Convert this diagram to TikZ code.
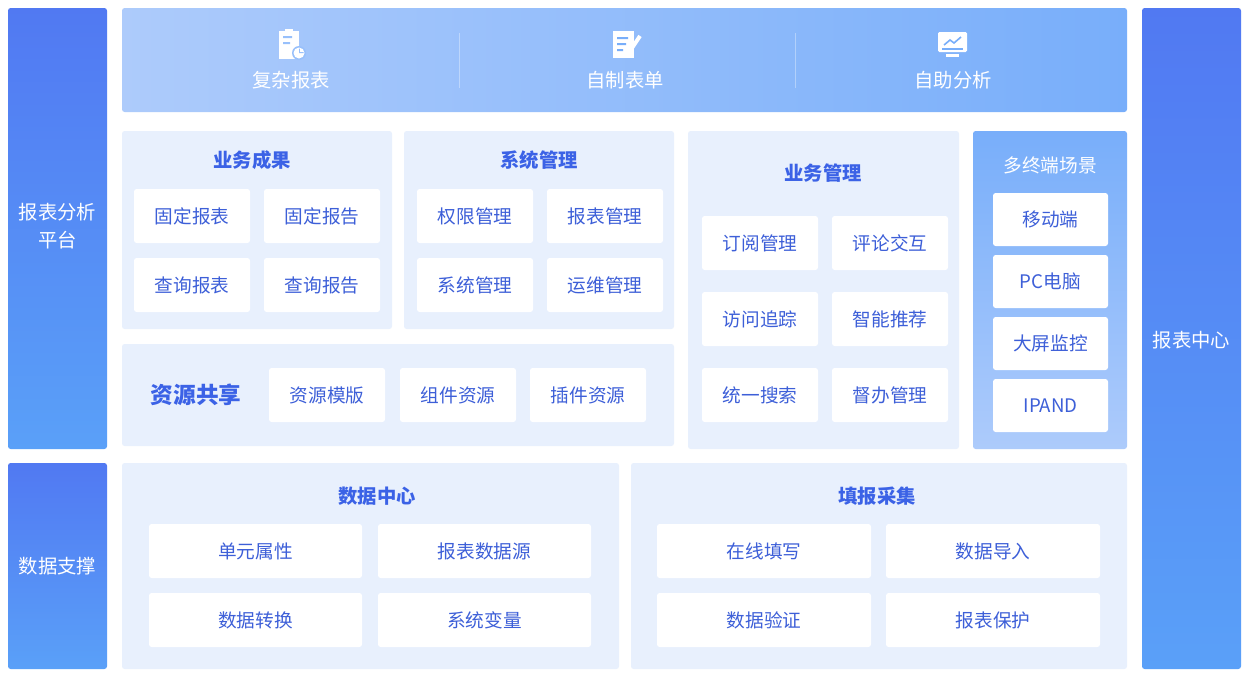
\documentclass[tikz,border=0pt]{standalone}
\usepackage{fontspec}
\setmainfont{Noto Sans CJK SC}
\begin{document}
\begin{tikzpicture}[x=0.75pt,y=-0.75pt,
  panel/.style={fill=pbg,rounded corners=2pt},
  cell/.style={fill=white,rounded corners=2pt},
  celltxt/.style={text=ctxt,font=\fontsize{14}{16}\selectfont},
  ttl/.style={text=ttxt,font=\fontsize{14.5}{16}\selectfont\bfseries},
  side/.style={rounded corners=2pt,top color=sideA,bottom color=sideB},
  sidetxt/.style={text=white,font=\fontsize{14.5}{21}\selectfont,align=center}]
\definecolor{pbg}{HTML}{E8F0FD}
\definecolor{ctxt}{HTML}{3D5FD8}
\definecolor{ttxt}{HTML}{3B62E6}
\definecolor{sideA}{HTML}{5179F2}
\definecolor{sideB}{HTML}{5AA0F8}
\definecolor{banA}{HTML}{78AEFA}
\definecolor{banB}{HTML}{ADCBFB}
\useasboundingbox (0,0) rectangle (1252,682);
\fill[white] (0,0) rectangle (1252,682);
% side bars
\path[side] (8,8) rectangle (107,449);
\node[sidetxt] (l1) at (57.5,226) {报表分析\\平台};
\path[side] (8,463) rectangle (107,669);
\node[sidetxt] (l2) at (57.5,566) {数据支撑};
\path[side] (1142,8) rectangle (1241,669);
\node[sidetxt] (r1) at (1191.5,340) {报表中心};
% banner
\path[rounded corners=2pt,left color=banB,middle color=banA,right color=banA] (122,8) rectangle (1127,112);
\draw[white,opacity=0.35] (459,33) -- (459,88) (795,33) -- (795,88);
\node[text=white,font=\fontsize{14.5}{16}\selectfont] (b1) at (291,80) {复杂报表};
\node[text=white,font=\fontsize{14.5}{16}\selectfont] (b2) at (625,80) {自制表单};
\node[text=white,font=\fontsize{14.5}{16}\selectfont] (b3) at (953,80) {自助分析};
% icons
\fill[white] (279,31) rectangle (299,59);
\fill[banB!60!banA] (283,36) rectangle (292,38) (283,42) rectangle (290,44);
\fill[white] (285,29) rectangle (293,33);
\fill[banB!60!banA] (299,53) circle (7);
\fill[white] (299,53) circle (5.5);
\fill[banB!60!banA] (299,53) -- (299,48.5) -- (299.8,48.5) -- (299.8,52.2) -- (303.5,52.2) -- (303.5,53) -- cycle;
\fill[white] (613,31) rectangle (634,58);
\fill[banA] (617,37) rectangle (628,39) (617,43) rectangle (626,45) (617,49) rectangle (623,51);
\draw[white,line width=3pt] (628,54) -- (640,36);
\fill[white,rounded corners=1pt] (938,32) rectangle (967,52);
\fill[white] (946,54) rectangle (959,57);
\draw[banA,line width=1.2pt] (944,45) -- (950,40) -- (954,43) -- (961,37);
\draw[banA,line width=1.2pt] (942,49) -- (963,49);
% 业务成果
\path[panel] (122,131) rectangle (392,329);
\node[ttl] (t1) at (252,160) {业务成果};
\foreach \x/\y/\t [count=\i] in {134/189/固定报表,264/189/固定报告,134/258/查询报表,264/258/查询报告}{
  \path[cell] (\x,\y) rectangle ++(116,54);
  \node[celltxt] (a\i) at (\x+58,\y+27) {\t};}
% 系统管理
\path[panel] (404,131) rectangle (674,329);
\node[ttl] (t2) at (539,160) {系统管理};
\foreach \x/\y/\t [count=\i] in {417/189/权限管理,547/189/报表管理,417/258/系统管理,547/258/运维管理}{
  \path[cell] (\x,\y) rectangle ++(116,54);
  \node[celltxt] (s\i) at (\x+58,\y+27) {\t};}
% 资源共享
\path[panel] (122,344) rectangle (674,446);
\node[ttl,font=\fontsize{17}{18}\selectfont\bfseries] (t3) at (196,395) {资源共享};
\foreach \x/\t [count=\i] in {269/资源模版,400/组件资源,530/插件资源}{
  \path[cell] (\x,368) rectangle ++(116,54);
  \node[celltxt] (z\i) at (\x+58,395) {\t};}
% 业务管理
\path[panel] (688,131) rectangle (959,449);
\node[ttl] (t4) at (823,173) {业务管理};
\foreach \x/\y/\t [count=\i] in {702/216/订阅管理,832/216/评论交互,702/292/访问追踪,832/292/智能推荐,702/368/统一搜索,832/368/督办管理}{
  \path[cell] (\x,\y) rectangle ++(116,54);
  \node[celltxt] (m\i) at (\x+58,\y+27) {\t};}
% 多终端场景
\path[rounded corners=2pt,top color=banA,bottom color=banB] (973,131) rectangle (1127,449);
\node[text=white,font=\fontsize{14}{16}\selectfont] (t5) at (1050,165) {多终端场景};
\foreach \y/\t [count=\i] in {193/移动端,255/PC电脑,317/大屏监控,379/IPAND}{
  \path[cell] (993,\y) rectangle ++(115,53);
  \node[celltxt] (d\i) at (1050.5,\y+26.5) {\t};}
% 数据中心
\path[panel] (122,463) rectangle (619,669);
\node[ttl] (t6) at (377,496) {数据中心};
\foreach \x/\y/\t [count=\i] in {149/524/单元属性,378/524/报表数据源,149/593/数据转换,378/593/系统变量}{
  \path[cell] (\x,\y) rectangle ++(213,54);
  \node[celltxt] (c\i) at (\x+106.5,\y+27) {\t};}
% 填报采集
\path[panel] (631,463) rectangle (1127,669);
\node[ttl] (t7) at (877,496) {填报采集};
\foreach \x/\y/\t [count=\i] in {657/524/在线填写,886/524/数据导入,657/593/数据验证,886/593/报表保护}{
  \path[cell] (\x,\y) rectangle ++(214,54);
  \node[celltxt] (f\i) at (\x+107,\y+27) {\t};}
\end{tikzpicture}
\end{document}
